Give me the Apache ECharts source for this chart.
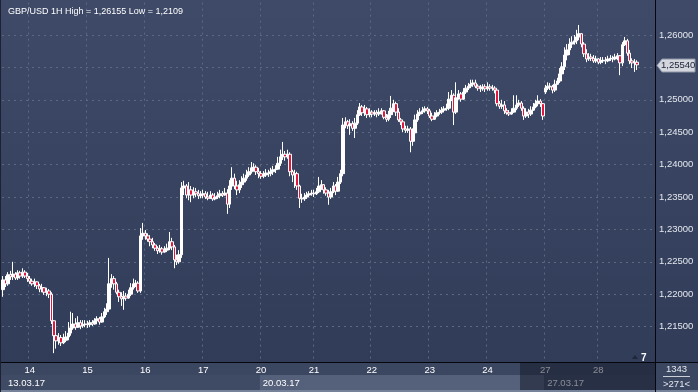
<!DOCTYPE html>
<html><head><meta charset="utf-8">
<script src="https://cdn.jsdelivr.net/npm/echarts/dist/echarts.min.js"></script>
<style>html,body{margin:0;padding:0;background:#35415d}#c{width:698px;height:392px}</style>
</head><body><div id="c"></div>
<script>
// ---- data ----
const titleText = 'GBP/USD 1H High = 1,26155 Low = 1,2109';
const dayNames = ['13','14','15','16','17','20','21','22','23','24','27','28'];
const dayCounts = [11,24,24,24,24,22,24,24,24,24,22,17];
const weekLabels = ['13.03.17','20.03.17','27.03.17'];
const weekStartDay = [0,5,10];
const priceTicks = [1.215,1.22,1.225,1.23,1.235,1.24,1.245,1.25,1.26];
const footerTop = '1343';
const footerBottom = '>271<';
const emptySlots = 7;
const firstOpen = 1.2207;
const gapOpens = {225: 1.2512};

const close = [
 1.2222,1.2216,1.2230,1.2227,1.2231,1.2225,1.2233,1.2228,1.2234,1.2228,1.2224,
 1.2220,1.2216,1.2219,1.2213,1.2208,1.2210,1.2203,1.2205,1.2200,1.2159,1.2136,1.2128,1.2133,1.2125,1.2129,1.2134,1.2140,1.2148,1.2154,1.2149,1.2156,1.2151,1.2153,1.2154,
 1.2153,1.2156,1.2154,1.2159,1.2162,1.2157,1.2165,1.2173,1.2177,1.2216,1.2224,1.2216,1.2203,1.2196,1.2193,1.2197,1.2194,1.2200,1.2210,1.2216,1.2217,1.2205,1.2290,1.2294,
 1.2290,1.2285,1.2281,1.2276,1.2271,1.2267,1.2270,1.2265,1.2268,1.2271,1.2281,1.2273,1.2253,1.2250,1.2261,1.2364,1.2367,1.2353,1.2361,1.2353,1.2358,1.2355,1.2352,1.2353,
 1.2355,1.2350,1.2348,1.2353,1.2347,1.2350,1.2352,1.2355,1.2353,1.2356,1.2339,1.2367,1.2379,1.2367,1.2361,1.2369,1.2373,1.2379,1.2384,1.2389,1.2395,1.2396,1.2389,1.2386,
 1.2382,1.2384,1.2387,1.2386,1.2389,1.2392,1.2393,1.2402,1.2412,1.2416,1.2412,1.2416,1.2389,1.2384,1.2386,1.2367,1.2348,1.2347,1.2350,1.2353,1.2355,1.2356,
 1.2355,1.2358,1.2367,1.2369,1.2361,1.2356,1.2350,1.2358,1.2367,1.2359,1.2373,1.2386,1.2461,1.2466,1.2460,1.2463,1.2456,1.2464,1.2477,1.2489,1.2480,1.2486,1.2477,1.2481,
 1.2478,1.2480,1.2478,1.2481,1.2483,1.2473,1.2470,1.2477,1.2487,1.2494,1.2481,1.2469,1.2466,1.2455,1.2453,1.2455,1.2436,1.2449,1.2469,1.2478,1.2481,1.2483,1.2486,1.2483,
 1.2475,1.2470,1.2475,1.2480,1.2481,1.2484,1.2486,1.2487,1.2501,1.2507,1.2481,1.2503,1.2509,1.2501,1.2512,1.2518,1.2521,1.2524,1.2526,1.2521,1.2518,1.2517,1.2520,1.2517,
 1.2520,1.2518,1.2518,1.2515,1.2494,1.2490,1.2492,1.2483,1.2480,1.2478,1.2481,1.2487,1.2492,1.2495,1.2487,1.2475,1.2481,1.2478,1.2484,1.2489,1.2494,1.2498,1.2494,1.2475,
 1.2518,1.2521,1.2520,1.2515,1.2524,1.2529,1.2540,1.2551,1.2569,1.2577,1.2586,1.2589,1.2591,1.2597,1.2602,1.2586,1.2571,1.2563,1.2566,1.2564,1.2560,1.2563,
 1.2558,1.2560,1.2561,1.2560,1.2563,1.2564,1.2563,1.2566,1.2568,1.2557,1.2585,1.2591,1.2572,1.2560,1.2557,1.2558,1.2554
];
const high = [
 1.2228,1.2228,1.2234,1.2236,1.2250,1.2234,1.2237,1.2236,1.2240,1.2237,1.2233,
 1.2228,1.2224,1.2224,1.2220,1.2216,1.2216,1.2211,1.2210,1.2208,1.2203,1.2160,1.2145,1.2140,1.2137,1.2139,1.2143,1.2157,1.2173,1.2171,1.2163,1.2166,1.2160,1.2160,1.2160,
 1.2159,1.2160,1.2160,1.2163,1.2166,1.2165,1.2171,1.2179,1.2186,1.2256,1.2231,1.2228,1.2219,1.2207,1.2203,1.2205,1.2202,1.2207,1.2217,1.2224,1.2222,1.2220,1.2302,1.2310,
 1.2299,1.2294,1.2291,1.2287,1.2279,1.2274,1.2276,1.2273,1.2274,1.2278,1.2296,1.2287,1.2276,1.2261,1.2268,1.2373,1.2375,1.2370,1.2373,1.2367,1.2365,1.2364,1.2361,1.2359,
 1.2361,1.2359,1.2358,1.2359,1.2356,1.2356,1.2358,1.2361,1.2359,1.2364,1.2362,1.2376,1.2396,1.2386,1.2375,1.2376,1.2382,1.2386,1.2392,1.2396,1.2404,1.2402,1.2399,1.2395,
 1.2390,1.2390,1.2393,1.2392,1.2395,1.2398,1.2399,1.2412,1.2423,1.2435,1.2421,1.2423,1.2419,1.2392,1.2392,1.2389,1.2369,1.2355,1.2356,1.2358,1.2359,1.2361,
 1.2361,1.2364,1.2381,1.2376,1.2370,1.2365,1.2361,1.2364,1.2373,1.2370,1.2381,1.2392,1.2472,1.2473,1.2469,1.2470,1.2467,1.2472,1.2484,1.2495,1.2492,1.2492,1.2489,1.2487,
 1.2484,1.2484,1.2484,1.2487,1.2487,1.2484,1.2478,1.2483,1.2506,1.2500,1.2497,1.2487,1.2472,1.2469,1.2460,1.2460,1.2458,1.2456,1.2477,1.2484,1.2487,1.2489,1.2490,1.2489,
 1.2486,1.2480,1.2481,1.2484,1.2486,1.2489,1.2490,1.2494,1.2512,1.2515,1.2510,1.2527,1.2515,1.2512,1.2518,1.2523,1.2526,1.2531,1.2531,1.2531,1.2524,1.2523,1.2524,1.2524,
 1.2527,1.2524,1.2523,1.2521,1.2517,1.2498,1.2500,1.2498,1.2487,1.2484,1.2487,1.2507,1.2507,1.2500,1.2498,1.2490,1.2487,1.2486,1.2490,1.2495,1.2500,1.2507,1.2501,1.2495,
 1.2523,1.2527,1.2526,1.2523,1.2531,1.2534,1.2549,1.2558,1.2581,1.2586,1.2595,1.2598,1.2600,1.2608,1.26155,1.2603,1.2589,1.2578,1.2572,1.2571,1.2569,1.2568,
 1.2564,1.2566,1.2566,1.2566,1.2568,1.2569,1.2568,1.2571,1.2572,1.2569,1.2589,1.2597,1.2594,1.2577,1.2564,1.2563,1.2561
];
const low = [
 1.2196,1.2211,1.2213,1.2222,1.2222,1.2222,1.2222,1.2224,1.2225,1.2225,1.2219,
 1.2216,1.2213,1.2211,1.2208,1.2203,1.2203,1.2199,1.2197,1.2194,1.2154,1.2109,1.2116,1.2122,1.2120,1.2123,1.2126,1.2129,1.2136,1.2145,1.2145,1.2148,1.2146,1.2148,1.2149,
 1.2148,1.2149,1.2151,1.2153,1.2157,1.2153,1.2156,1.2163,1.2168,1.2174,1.2210,1.2207,1.2200,1.2188,1.2182,1.2176,1.2190,1.2193,1.2197,1.2207,1.2211,1.2202,1.2202,1.2284,
 1.2284,1.2281,1.2274,1.2271,1.2267,1.2262,1.2264,1.2261,1.2264,1.2265,1.2268,1.2268,1.2240,1.2245,1.2247,1.2256,1.2353,1.2348,1.2345,1.2342,1.2348,1.2350,1.2347,1.2348,
 1.2348,1.2347,1.2345,1.2347,1.2344,1.2345,1.2347,1.2348,1.2350,1.2352,1.2324,1.2333,1.2361,1.2362,1.2353,1.2356,1.2364,1.2372,1.2375,1.2381,1.2386,1.2389,1.2384,1.2379,
 1.2378,1.2379,1.2381,1.2381,1.2382,1.2384,1.2387,1.2392,1.2398,1.2407,1.2406,1.2409,1.2382,1.2373,1.2364,1.2361,1.2333,1.2341,1.2344,1.2347,1.2350,1.2352,
 1.2350,1.2353,1.2356,1.2361,1.2355,1.2352,1.2338,1.2347,1.2356,1.2353,1.2358,1.2370,1.2382,1.2456,1.2455,1.2446,1.2452,1.2441,1.2461,1.2475,1.2475,1.2475,1.2472,1.2473,
 1.2473,1.2475,1.2473,1.2475,1.2477,1.2470,1.2466,1.2467,1.2472,1.2481,1.2475,1.2466,1.2461,1.2450,1.2449,1.2449,1.2419,1.2429,1.2444,1.2466,1.2475,1.2478,1.2480,1.2478,
 1.2472,1.2467,1.2469,1.2473,1.2477,1.2478,1.2481,1.2483,1.2484,1.2498,1.2461,1.2478,1.2500,1.2497,1.2500,1.2509,1.2515,1.2518,1.2520,1.2518,1.2514,1.2512,1.2514,1.2512,
 1.2514,1.2514,1.2514,1.2510,1.2490,1.2486,1.2486,1.2478,1.2477,1.2475,1.2477,1.2480,1.2484,1.2489,1.2483,1.2469,1.2472,1.2472,1.2475,1.2483,1.2487,1.2490,1.2489,1.2469,
 1.2509,1.2515,1.2515,1.2510,1.2512,1.2523,1.2526,1.2537,1.2546,1.2561,1.2569,1.2580,1.2585,1.2586,1.2592,1.2581,1.2566,1.2558,1.2560,1.2560,1.2557,1.2557,
 1.2555,1.2555,1.2557,1.2555,1.2558,1.2560,1.2558,1.2561,1.2561,1.2538,1.2552,1.2583,1.2568,1.2555,1.2549,1.2543,1.2546
];

// ---- build ----
const FONT = 'Liberation Sans, Arial, sans-serif';
const categories = [];
const dayStart = [];
dayNames.forEach((d, k) => {
  dayStart.push(categories.length);
  const n = dayCounts[k];
  for (let h = 0; h < n; h++) categories.push(d + '.03 ' + (24 - n + h) + ':00');
});
for (let i = 0; i < emptySlots; i++) categories.push('pad' + i);
const labelAt = {};
dayStart.forEach((idx, k) => { if (k > 0) labelAt[idx] = dayNames[k]; });

const ohlc = close.map((c, i) => {
  const o = i === 0 ? firstOpen : (gapOpens[i] !== undefined ? gapOpens[i] : close[i - 1]);
  return [o, c, Math.min(low[i], o, c), Math.max(high[i], o, c)];
});
const fmt = v => v.toFixed(5).replace('.', ',');
const isTick = v => priceTicks.some(t => Math.abs(t - v) < 1e-7);

const chart = echarts.init(document.getElementById('c'));
const option = {
  animation: false,
  backgroundColor: {type: 'linear', x: 0, y: 0, x2: 0, y2: 1,
    colorStops: [{offset: 0, color: '#3e4a67'}, {offset: 1, color: '#2f3b57'}]},
  textStyle: {fontFamily: FONT},
  title: {text: titleText, left: 3, top: 2,
    textStyle: {color: '#ffffff', fontSize: 9, fontWeight: 'normal', fontFamily: FONT}},
  grid: {left: 2, right: 43, top: 2.6, bottom: 33},
  xAxis: {
    type: 'category', data: categories, boundaryGap: true, z: 1,
    axisLine: {show: false}, axisTick: {show: false},
    axisLabel: {interval: (i) => labelAt[i] !== undefined, formatter: (v, i) => labelAt[i] || '',
      color: '#ffffff', fontSize: 9.5, margin: 6, fontFamily: FONT},
    splitLine: {show: true, interval: (i) => labelAt[i] !== undefined,
      lineStyle: {color: '#5d6983', width: 1, type: [2, 4]}}
  },
  yAxis: {
    type: 'value', position: 'right', min: 1.21, max: 1.265, interval: 0.005, z: 1,
    axisLine: {show: false}, axisTick: {show: false},
    axisLabel: {margin: 4, color: '#e4e8ef', fontSize: 9.5, fontFamily: FONT,
      formatter: v => isTick(v) ? fmt(v) : ''},
    splitLine: {show: true, showMinLine: false, showMaxLine: false,
      lineStyle: {color: '#5d6983', width: 1, type: [2, 4]}}
  },
  series: [{
    type: 'candlestick', data: ohlc, barWidth: 3, z: 2,
    itemStyle: {color: '#ffffff', color0: '#e3173d', borderColor: '#ffffff', borderColor0: '#ffffff', borderWidth: 1},
    emphasis: {disabled: true}
  }]
};
chart.setOption(option);

const xAt = i => chart.convertToPixel({xAxisIndex: 0}, i);
const band = xAt(1) - xAt(0);
const lastClose = close[close.length - 1];
const yP = Math.round(chart.convertToPixel({yAxisIndex: 0}, lastClose)) + 0.5;
const g = [];
// bottom strip
g.push({type: 'rect', z: 0, shape: {x: 0, y: 362, width: 698, height: 30}, style: {fill: '#3b4660'}});
weekLabels.forEach((w, k) => {
  const s = dayStart[weekStartDay[k]];
  const x0 = k === 0 ? 0 : xAt(s) - band / 2;
  const x1 = k + 1 < weekLabels.length ? xAt(dayStart[weekStartDay[k + 1]]) - band / 2 : 655;
  g.push({type: 'rect', z: 0, shape: {x: x0, y: 375, width: x1 - x0, height: 15},
    style: {fill: k % 2 ? '#55607a' : '#3f4a64'}});
  g.push({type: 'text', z: 3, x: (k === 0 ? 8 : x0 + 3), y: 383,
    style: {text: w, fill: '#ffffff', font: '9.5px ' + FONT, verticalAlign: 'middle'}});
});
g.push({type: 'rect', z: 0, shape: {x: 0, y: 390, width: 698, height: 2}, style: {fill: '#76819a'}});
// dark overlay on last section
g.push({type: 'rect', z: 10, shape: {x: 520, y: 363, width: 135, height: 27}, style: {fill: 'rgba(16,22,38,0.5)'}});
// frame lines
g.push({type: 'line', z: 11, shape: {x1: 655.5, y1: 0, x2: 655.5, y2: 392}, style: {stroke: '#05070c', lineWidth: 1}});
g.push({type: 'line', z: 11, shape: {x1: 0, y1: 362.5, x2: 698, y2: 362.5}, style: {stroke: '#05070c', lineWidth: 1}});
g.push({type: 'line', z: 11, shape: {x1: 0.5, y1: 0, x2: 0.5, y2: 392}, style: {stroke: '#1c2231', lineWidth: 1}});
// footer box
g.push({type: 'text', z: 11, x: 676.5, y: 369.5, style: {text: footerTop, fill: '#e4e8ef', font: '9.5px ' + FONT, align: 'center', verticalAlign: 'middle'}});
g.push({type: 'line', z: 11, shape: {x1: 663, y1: 376.5, x2: 690, y2: 376.5}, style: {stroke: '#c9cfd9', lineWidth: 1}});
g.push({type: 'text', z: 11, x: 676.5, y: 384, style: {text: footerBottom, fill: '#e4e8ef', font: '9.5px ' + FONT, align: 'center', verticalAlign: 'middle'}});
// "7" marker
g.push({type: 'polygon', z: 11, shape: {points: [[632, 359], [635, 355], [638, 359]]}, style: {fill: '#1f2738'}});
g.push({type: 'text', z: 11, x: 641, y: 358, style: {text: '7', fill: '#ffffff', font: 'bold 10px ' + FONT, verticalAlign: 'middle'}});
// current price label
g.push({type: 'polygon', z: 12, shape: {points: [[657, yP], [662, yP - 6.5], [695, yP - 6.5], [695, yP + 6.5], [662, yP + 6.5]]},
  style: {fill: '#d3d6dc', stroke: '#8c95a6', lineWidth: 1}});
g.push({type: 'text', z: 13, x: 661, y: yP, style: {text: fmt(lastClose), fill: '#1a2136', font: '9.5px ' + FONT, verticalAlign: 'middle'}});
chart.setOption({graphic: g});
</script>
</body></html>
